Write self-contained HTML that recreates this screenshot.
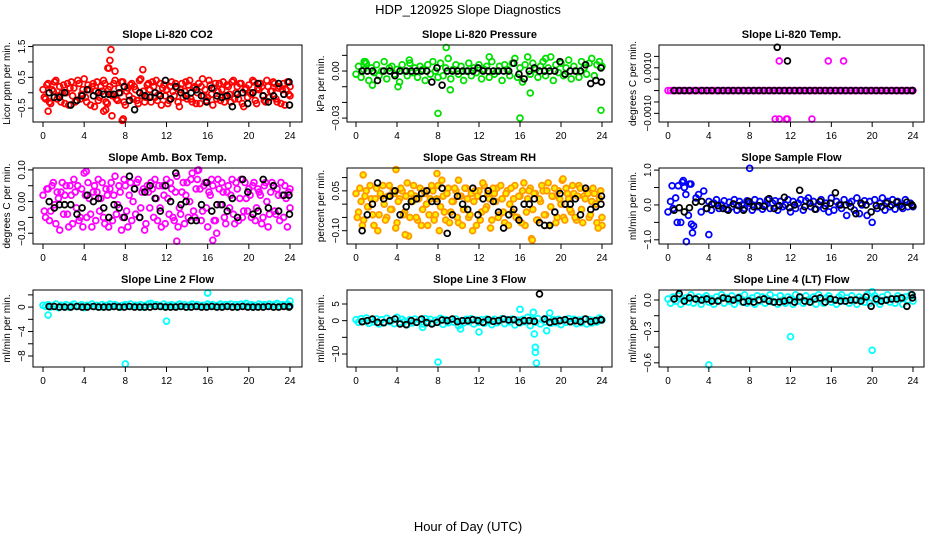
<!DOCTYPE html>
<html><head><meta charset="utf-8">
<style>
html,body{margin:0;padding:0;background:#fff;}
svg{display:block;font-family:"Liberation Sans",sans-serif;}
</style></head>
<body>
<svg id="chart" width="936" height="540" viewBox="0 0 936 540">
<text x="468" y="14" text-anchor="middle" font-size="13">HDP_120925  Slope Diagnostics</text>
<text x="468" y="531" text-anchor="middle" font-size="13">Hour of Day (UTC)</text>
</svg>
<script>
const hours=[0,0.25,0.5,0.75,1,1.25,1.5,1.75,2,2.25,2.5,2.75,3,3.25,3.5,3.75,4,4.25,4.5,4.75,5,5.25,5.5,5.75,6,6.25,6.5,6.75,7,7.25,7.5,7.75,8,8.25,8.5,8.75,9,9.25,9.5,9.75,10,10.25,10.5,10.75,11,11.25,11.5,11.75,12,12.25,12.5,12.75,13,13.25,13.5,13.75,14,14.25,14.5,14.75,15,15.25,15.5,15.75,16,16.25,16.5,16.75,17,17.25,17.5,17.75,18,18.25,18.5,18.75,19,19.25,19.5,19.75,20,20.25,20.5,20.75,21,21.25,21.5,21.75,22,22.25,22.5,22.75,23,23.25,23.5,23.75,24];
const blackHours=[0.6,1.1,1.6,2.1,2.7,3.3,3.8,4.3,4.9,5.4,5.9,6.4,6.9,7.4,7.9,8.4,8.9,9.4,9.9,10.4,10.9,11.4,11.9,12.4,12.9,13.4,13.9,14.4,14.9,15.4,15.9,16.4,16.9,17.4,17.9,18.4,18.9,19.4,19.9,20.4,20.9,21.4,21.9,22.4,22.9,23.4,23.9,23.95];

const co2Vals=[0.1,-0.2,0.3,-0.35,0.05,0.4,-0.1,-0.3,0.25,0.0,-0.4,0.35,0.15,-0.25,0.3,-0.05,0.45,-0.3,0.1,0.2,-0.45,0.35,-0.15,0.05,0.3,-0.35,0.2,-0.1,0.4,-0.25,0.0,0.35,-0.4,0.15,0.25,-0.2,0.1,-0.35,0.45,0.05,-0.15,0.3,-0.3,0.2,0.4,-0.05,-0.4,0.25,0.1,-0.25,0.35,-0.1,0.15,-0.45,0.3,0.05,-0.2,0.4,-0.3,0.2,0.0,-0.35,0.45,0.1,-0.15,0.25,-0.4,0.3,0.05,-0.25,0.35,-0.1,0.2,-0.3,0.4,0.0,-0.2,0.3,-0.45,0.15,0.25,-0.05,0.35,-0.35,0.1,0.2,-0.25,0.4,-0.15,0.05,0.3,-0.3,0.2,0.1,-0.4,0.35,-0.1];
const co2Vals2=[-0.15,0.25,-0.3,0.1,0.35,-0.2,0.2,0.0,-0.35,0.3,0.15,-0.1,-0.3,0.4,-0.2,0.1,-0.15,0.25,-0.4,0.3,0.05,-0.25,0.2,0.4,-0.3,0.1,-0.05,0.3,-0.2,0.15,0.35,-0.3,0.05,-0.1,0.3,0.2,-0.25,0.4,-0.1,-0.3,0.25,0.1,0.35,-0.15,-0.25,0.3,0.15,-0.1,-0.35,0.2,0.05,0.3,-0.3,0.1,-0.15,0.35,0.25,-0.2,0.15,-0.35,0.3,0.2,-0.1,-0.25,0.4,-0.05,0.15,-0.2,0.3,0.1,-0.3,0.25,-0.05,0.35,-0.2,0.2,0.3,-0.35,0.1,-0.15,0.0,0.4,-0.25,0.15,0.3,-0.1,-0.3,0.2,0.05,0.35,-0.2,0.15,-0.35,0.3,0.1,-0.05,0.2];
const co2OutX=[6.6,6.5,6.3,6.4,7.0,9.7,7.7,7.8,6.7,0.5,5.9,6.1];
const co2OutY=[1.4,1.05,0.8,0.8,0.7,0.75,-0.9,-0.85,-0.75,-0.6,-0.6,-0.55];
const co2Black=[0.0,-0.15,-0.15,0.0,-0.4,-0.25,-0.1,0.1,-0.1,0.0,-0.05,-0.05,-0.05,0.0,0.2,-0.25,-0.55,0.0,-0.1,-0.15,0.0,-0.1,0.4,-0.2,0.2,0.0,-0.1,0.0,0.1,-0.1,-0.3,0.15,-0.1,-0.15,-0.1,-0.45,-0.05,0.0,-0.35,0.0,0.3,-0.1,-0.3,-0.1,0.3,-0.05,0.35,-0.4];

const presVals=[-0.002,0.003,-0.004,0.001,0.005,-0.006,0.002,-0.001,0.004,-0.003,0.0,0.006,-0.005,0.002,0.003,-0.002,0.001,-0.007,0.004,0.0,-0.003,0.005,-0.001,0.002,-0.004,0.003,0.001,-0.006,0.004,-0.002,0.006,0.0,-0.004,0.005,-0.003,0.002,0.008,-0.005,0.001,0.004,-0.002,0.003,-0.006,0.0,0.005,-0.003,0.002,-0.001,0.004,-0.005,0.001,0.003,-0.004,0.006,-0.002,0.0,0.003,-0.006,0.004,0.001,-0.003,0.005,0.008,-0.004,0.002,-0.007,0.004,0.009,-0.002,0.005,0.001,-0.004,0.003,0.006,-0.003,0.002,0.009,-0.006,0.004,-0.001,0.005,-0.003,0.002,0.007,-0.005,0.003,0.0,-0.004,0.006,0.002,-0.002,0.005,0.008,-0.003,0.004,0.006,0.003];
const presOutX=[8.0,16.0,23.9,8.8,0.9,9.2,4.1,17.0,1.6,0.8,5.2,13.0,18.5];
const presOutY=[-0.027,-0.030,-0.025,0.015,0.006,-0.012,-0.010,-0.014,-0.009,0.006,0.007,0.009,0.008];
const presBlack=[0.0,0.0,0.0,-0.006,0.0,0.0,-0.003,0.0,0.0,0.0,0.0,0.0,0.0,-0.007,0.002,-0.009,0.0,0.0,0.0,0.0,0.0,0.0,0.002,0.0,0.0,0.0,0.0,0.0,0.0,0.005,-0.002,-0.005,0.0,0.002,0.0,0.0,0.0,0.0,0.006,-0.002,0.0,0.0,0.0,0.004,-0.008,-0.006,0.002,-0.007];

const tempVals=[0,0,0,0,0,0,0,0,0,0,0,0,0,0,0,0,0,0,0,0,0,0,0,0,0,0,0,0,0,0,0,0,0,0,0,0,0,0,0,0,0,0,0,0,0,0,0,0,0,0,0,0,0,0,0,0,0,0,0,0,0,0,0,0,0,0,0,0,0,0,0,0,0,0,0,0,0,0,0,0,0,0,0,0,0,0,0,0,0,0,0,0,0,0,0,0,0];
const tempOutX=[10.9,15.7,17.2,10.5,10.9,11.6,11.7,14.1];
const tempOutY=[0.0013,0.0013,0.0013,-0.00125,-0.00125,-0.00125,-0.00125,-0.00125];
const tempBlackX=[10.7,11.7];
const tempBlackY=[0.0019,0.0013];
const tempBlack=[0,0,0,0,0,0,0,0,0,0,0,0,0,0,0,0,0,0,0,0,0,0,0,0,0,0,0,0,0,0,0,0,0,0,0,0,0,0,0,0,0,0,0,0,0,0,0,0];

const ambVals=[0.02,-0.05,0.04,-0.03,0.06,-0.07,0.01,0.03,-0.04,0.05,-0.08,0.02,0.07,-0.02,-0.06,0.04,0.09,-0.05,0.01,-0.08,0.05,0.03,-0.03,0.06,-0.07,0.02,0.04,-0.06,0.08,-0.01,0.03,-0.05,0.05,-0.08,0.06,0.0,-0.04,0.07,-0.02,0.04,-0.07,0.03,0.06,-0.05,0.01,0.05,-0.08,0.02,0.07,-0.04,0.04,-0.06,0.08,-0.02,0.03,-0.07,0.06,0.0,0.09,-0.05,0.07,0.04,-0.03,0.06,-0.08,0.02,0.05,-0.06,0.07,-0.01,0.03,-0.07,0.05,0.02,-0.04,0.06,-0.06,0.07,-0.03,0.01,0.04,-0.05,0.06,-0.02,0.03,-0.07,0.05,0.0,-0.04,0.06,-0.03,0.04,-0.06,0.02,0.05,-0.08,-0.02];
const ambVals2=[-0.03,0.04,-0.06,0.05,-0.01,0.03,-0.09,0.06,0.02,-0.04,0.05,-0.07,0.03,0.05,-0.05,-0.08,0.02,0.06,-0.04,0.03,-0.06,0.07,0.01,-0.05,0.04,-0.08,0.06,0.02,-0.04,0.05,-0.09,0.07,-0.03,0.02,-0.06,0.04,0.06,-0.05,0.03,-0.09,0.05,-0.02,0.04,0.07,-0.06,-0.02,0.05,-0.07,0.01,0.06,-0.05,0.03,-0.08,-0.04,0.06,0.02,-0.05,0.07,-0.03,0.04,0.1,-0.06,0.05,-0.02,0.03,0.07,-0.06,-0.1,0.04,0.06,-0.05,0.03,-0.02,0.07,-0.07,0.04,0.01,-0.05,0.06,-0.03,0.02,0.05,-0.06,0.04,0.02,-0.05,0.06,-0.08,0.03,0.05,-0.04,0.02,0.06,-0.05,0.01,0.03,0.04];
const ambBlack=[0.0,-0.02,-0.01,-0.01,-0.01,-0.04,-0.02,0.02,0.0,0.01,-0.02,-0.05,-0.01,-0.02,-0.05,0.08,0.04,-0.05,0.03,0.05,0.01,-0.03,0.05,0.0,0.09,-0.01,0.0,-0.06,-0.06,-0.01,0.06,-0.03,-0.01,-0.01,-0.03,0.01,-0.05,0.07,0.03,-0.04,-0.03,0.07,-0.02,0.05,-0.03,0.02,0.02,-0.04];

const rhVals=[0.04,-0.03,0.01,-0.06,0.05,-0.01,0.02,-0.08,0.06,-0.04,0.03,0.0,-0.05,0.07,-0.02,0.04,-0.07,0.02,0.05,-0.03,0.08,-0.05,0.01,0.03,-0.06,0.06,-0.02,0.04,-0.08,0.02,0.05,-0.04,0.07,-0.01,0.03,-0.06,0.06,-0.03,0.01,0.05,-0.07,0.03,-0.02,0.06,-0.05,0.04,0.01,-0.08,0.05,-0.03,0.07,-0.01,0.02,-0.06,0.04,0.06,-0.04,0.02,-0.07,0.05,0.0,-0.03,0.07,-0.05,0.03,0.05,-0.08,0.02,0.06,-0.02,0.04,-0.06,0.01,0.05,-0.04,0.08,-0.01,0.03,-0.07,0.05,0.0,-0.05,0.06,0.02,-0.03,0.04,-0.06,0.07,-0.02,0.03,0.05,-0.05,0.01,0.04,-0.07,0.02,-0.08];
const rhVals2=[-0.05,0.06,-0.08,0.03,-0.01,0.07,-0.04,0.02,-0.1,0.04,0.07,-0.06,0.03,-0.02,0.05,-0.09,0.01,0.06,-0.04,0.03,-0.12,0.04,0.07,-0.05,0.02,-0.08,0.05,0.0,-0.04,0.07,-0.06,0.02,-0.1,0.09,-0.03,0.04,-0.07,0.01,0.06,-0.05,0.03,-0.08,0.06,0.02,-0.04,-0.1,0.05,0.03,-0.06,0.08,-0.02,0.04,-0.09,0.06,0.01,-0.05,0.07,-0.03,0.04,-0.08,0.06,0.02,-0.05,0.03,-0.07,0.08,-0.03,0.05,-0.13,0.04,-0.06,0.02,0.07,-0.04,0.05,-0.08,0.03,0.06,-0.05,0.02,0.09,-0.06,0.04,-0.02,0.07,-0.05,0.03,0.06,-0.07,0.02,0.04,-0.04,0.06,0.0,-0.09,0.05,-0.05];
const rhBlack=[-0.1,-0.04,0.0,0.08,0.02,0.03,0.05,-0.04,-0.01,0.01,0.02,0.04,0.05,0.01,0.01,0.06,-0.11,-0.04,0.03,0.0,-0.02,0.06,-0.04,0.02,0.05,0.01,-0.03,-0.09,-0.04,-0.02,-0.06,0.0,0.0,0.02,-0.07,-0.08,-0.08,-0.03,0.04,0.0,0.0,0.02,-0.04,0.06,-0.02,-0.01,0.0,0.03];

const flowVals=[-0.2,0.1,-0.1,0.2,0.55,-0.5,0.7,0.3,-0.3,0.6,-0.6,0.2,0.3,-0.2,0.4,-0.1,0.1,-0.15,0.05,0.15,-0.1,0.0,0.12,-0.12,0.08,-0.05,0.15,-0.15,0.1,0.0,-0.1,0.12,0.05,-0.15,0.15,-0.05,0.1,-0.12,0.0,0.15,-0.1,0.05,0.12,-0.15,0.1,-0.05,0.0,0.15,-0.2,0.1,-0.1,0.05,0.15,-0.15,0.12,0.2,-0.05,0.1,-0.12,0.0,0.15,-0.1,0.05,-0.2,0.2,-0.15,0.1,0.0,-0.1,0.15,-0.3,0.05,0.1,-0.15,0.2,-0.25,0.0,0.12,-0.3,0.1,-0.5,0.15,-0.1,0.05,0.2,-0.15,0.1,-0.05,0.15,-0.12,0.1,0.0,-0.1,0.15,-0.05,0.05,-0.05];
const flowOutX=[0.4,0.9,1.8,2.3,2.4,4.0,8.0,1.4,1.6,2.1];
const flowOutY=[0.55,-0.5,-1.05,-0.55,-0.8,-0.85,1.05,0.65,0.5,0.6];
const flowBlack=[-0.15,-0.08,-0.2,-0.08,0.08,0.1,-0.1,0.02,-0.02,-0.1,-0.15,0.03,-0.02,-0.15,0.1,-0.05,-0.02,-0.04,0.18,-0.1,-0.02,0.22,-0.08,0.0,0.42,-0.05,0.05,-0.12,0.1,-0.03,0.05,0.35,0.0,0.0,-0.05,-0.25,0.05,0.0,-0.2,-0.02,-0.05,0.05,0.0,0.08,-0.05,0.08,0.0,-0.03];

const l2Vals=[0.3,0.1,0.4,0.0,0.2,0.5,-0.1,0.3,0.2,0.4,0.0,0.3,0.5,0.1,0.2,0.4,-0.1,0.3,0.2,0.5,0.1,0.3,0.0,0.4,0.2,0.3,0.5,0.1,0.4,0.2,0.0,0.3,0.4,0.2,0.5,0.1,0.3,0.2,0.4,0.0,0.3,0.5,0.6,0.2,0.4,0.3,0.1,0.5,0.2,0.3,0.4,0.1,0.3,0.5,0.2,0.4,0.0,0.3,0.5,0.2,0.4,0.1,0.3,0.2,0.5,0.3,0.4,0.1,0.3,0.5,0.2,0.4,0.3,0.5,0.1,0.4,0.2,0.5,0.3,0.6,0.2,0.4,0.3,0.1,0.5,0.3,0.4,0.2,0.5,0.3,0.4,0.6,0.2,0.4,0.3,0.5,0.2];
const l2OutX=[8.0,16.0,12.0,0.5,24.0];
const l2OutY=[-9.3,2.3,-2.3,-1.3,1.0];
const l2Black=[0.1,0.1,0.0,0.0,0.0,0.1,0.0,0.0,0.1,0.0,0.0,0.0,0.1,0.0,0.0,0.1,0.0,0.0,0.0,0.0,0.1,0.1,0.0,0.0,0.0,0.1,0.0,0.0,0.1,0.0,0.0,0.1,0.0,0.0,0.1,0.0,0.0,0.1,0.0,0.0,0.0,0.0,0.1,0.0,0.0,0.1,0.0,0.1];

const l3Vals=[0.3,-0.5,0.6,-0.2,0.8,-0.8,0.2,-0.4,0.5,-1.0,0.3,-0.6,0.7,-0.3,0.1,-0.9,1.0,-0.5,0.4,-0.2,-1.2,0.3,-0.7,0.5,-0.4,0.2,-1.0,0.6,-0.3,0.4,-0.8,0.1,-0.5,0.7,-1.1,0.3,-0.6,0.2,-0.4,0.5,-1.5,0.0,-0.7,0.4,-0.3,0.6,-1.0,0.2,-0.5,0.3,-0.8,0.5,-0.2,-1.2,0.4,-0.6,0.1,0.6,-0.9,0.3,-0.4,0.5,-1.3,0.2,-0.7,0.4,-0.3,1.0,-1.5,0.3,-0.5,0.6,-1.0,0.2,-0.4,0.7,-0.8,0.3,-0.6,0.4,-1.2,0.1,-0.5,0.6,-0.3,0.4,-0.9,0.2,-0.6,0.5,-1.0,0.3,-0.7,0.1,-0.4,0.8,0.2];
const l3OutX=[8.0,12.0,16.0,17.3,17.4,17.5,17.5,17.6,18.6,18.9,6.5,10.2];
const l3OutY=[-12.4,-3.4,3.4,2.5,-4.0,-8.0,-9.5,-12.7,-3.0,2.3,-2.0,-2.5];
const l3Black=[-0.3,0.0,0.5,-0.5,-0.6,0.0,0.5,-1.0,-1.2,0.0,-0.5,0.5,-0.6,-1.0,-0.5,0.2,0.0,0.5,-0.3,0.0,0.0,0.3,0.0,-0.5,0.3,-0.2,0.0,0.5,0.2,0.3,-0.5,0.0,0.0,-0.2,8.0,0.5,-0.5,-0.2,0.0,0.3,-0.3,0.0,-0.3,0.5,-0.3,0.0,0.3,0.2];

const l4Vals=[0.01,-0.03,0.03,-0.01,0.04,-0.04,0.0,0.02,-0.02,0.05,-0.03,0.01,0.03,-0.04,0.02,0.04,-0.02,0.01,-0.04,0.03,0.0,0.05,-0.03,0.02,-0.01,0.04,-0.04,0.01,0.03,-0.02,0.05,-0.03,0.0,0.02,-0.04,0.04,-0.01,0.03,-0.03,0.01,0.05,-0.02,0.02,-0.04,0.04,0.0,-0.03,0.03,0.01,-0.04,0.05,-0.01,0.02,-0.03,0.04,0.0,-0.02,0.03,-0.04,0.05,0.01,-0.03,0.02,0.04,-0.02,0.0,-0.04,0.03,0.05,-0.01,0.02,-0.03,0.04,0.0,-0.04,0.03,0.01,-0.02,0.05,-0.03,0.02,0.04,-0.01,-0.04,0.03,0.0,0.05,-0.02,0.01,-0.03,0.04,0.02,-0.04,0.03,0.0,0.05,-0.01];
const l4OutX=[4.0,12.0,20.0,20.0];
const l4OutY=[-0.62,-0.35,-0.48,0.08];
const l4Black=[0.01,0.06,-0.01,0.02,0.01,0.0,0.01,-0.01,-0.01,0.02,0.01,0.0,0.02,-0.02,-0.01,-0.02,0.0,0.01,-0.01,-0.02,-0.02,-0.01,0.0,-0.02,0.03,-0.01,-0.02,0.01,0.02,-0.02,0.01,0.0,-0.01,-0.01,0.0,0.0,-0.01,0.03,-0.06,0.01,-0.01,0.0,0.01,0.01,0.02,-0.06,0.05,0.02];

const panels=[
 {name:"co2",title:"Slope Li-820 CO2",ylab:"Licor ppm per min.",col:0,row:0,ymin:-0.95,ymax:1.55,ticks:[-0.5,0,0.5,1,1.5],labels:[-0.5,0.5,1.5],lfmt:1,color:"#ff0000",fill:"none",vals:[co2Vals,co2Vals2],hr2:0.125,outX:co2OutX,outY:co2OutY,black:co2Black},
 {name:"pressure",title:"Slope Li-820 Pressure",ylab:"kPa per min.",col:1,row:0,ymin:-0.0325,ymax:0.0166,ticks:[-0.03,-0.02,-0.01,0,0.01],labels:[-0.03,0],lfmt:2,color:"#00e000",fill:"none",vals:[presVals],outX:presOutX,outY:presOutY,black:presBlack},
 {name:"temp",title:"Slope Li-820 Temp.",ylab:"degrees C per min.",col:2,row:0,ymin:-0.00138,ymax:0.002,ticks:[-0.001,-0.0005,0,0.0005,0.001,0.0015],labels:[-0.001,0.001],lfmt:4,color:"#ff00ff",fill:"none",vals:[tempVals],outX:tempOutX,outY:tempOutY,black:tempBlack,bX:tempBlackX,bY:tempBlackY},
 {name:"amb-box-temp",title:"Slope Amb. Box Temp.",ylab:"degrees C per min.",col:0,row:1,ymin:-0.134,ymax:0.106,ticks:[-0.1,-0.05,0,0.05,0.1],labels:[-0.1,0,0.1],lfmt:2,color:"#ff00ff",fill:"none",vals:[ambVals,ambVals2],hr2:0.125,outX:[13.0,16.5,4.2,15.0],outY:[-0.125,-0.122,0.095,0.098],black:ambBlack},
 {name:"gas-stream-rh",title:"Slope Gas Stream RH",ylab:"percent per min.",col:1,row:1,ymin:-0.15,ymax:0.136,ticks:[-0.1,-0.05,0,0.05,0.1],labels:[-0.1,0.05],lfmt:2,color:"#ff9900",fill:"#ffee00",vals:[rhVals,rhVals2],hr2:0.125,outX:[0.7,3.9,7.9,17.2,20.2,4.8,10.0],outY:[0.11,0.13,0.115,-0.135,0.095,-0.115,0.09],black:rhBlack},
 {name:"sample-flow",title:"Slope Sample Flow",ylab:"ml/min per min.",col:2,row:1,ymin:-1.12,ymax:1.06,ticks:[-1,-0.5,0,0.5,1],labels:[-1,0,1],lfmt:1,color:"#0000ff",fill:"none",vals:[flowVals],outX:flowOutX,outY:flowOutY,black:flowBlack},
 {name:"line2-flow",title:"Slope Line 2 Flow",ylab:"ml/min per min.",col:0,row:2,ymin:-9.8,ymax:2.8,ticks:[-8,-6,-4,-2,0,2],labels:[-8,-4,0],lfmt:0,color:"#00ffff",fill:"none",vals:[l2Vals],outX:l2OutX,outY:l2OutY,black:l2Black},
 {name:"line3-flow",title:"Slope Line 3 Flow",ylab:"ml/min per min.",col:1,row:2,ymin:-13.9,ymax:9.2,ticks:[-10,-5,0,5],labels:[-10,0,5],lfmt:0,color:"#00ffff",fill:"none",vals:[l3Vals],outX:l3OutX,outY:l3OutY,black:l3Black},
 {name:"line4-flow",title:"Slope Line 4 (LT) Flow",ylab:"ml/min per min.",col:2,row:2,ymin:-0.64,ymax:0.0957,ticks:[-0.6,-0.45,-0.3,-0.15,0],labels:[-0.6,-0.3,0],lfmt:1,color:"#00ffff",fill:"none",vals:[l4Vals],outX:l4OutX,outY:l4OutY,black:l4Black}
];
const xTicks=[0,4,8,12,16,20,24];

const NS="http://www.w3.org/2000/svg";
const svg=document.getElementById('chart');
const boxL=[33,347,659],boxR=[302,612,924],x0=[43,356,668],x24=[290,602,913];
const boxT=[45,168,290],boxB=[122,244,367];
const R_PT=2.9,SW=1.8;
function mk(tag,attrs,parent){const e=document.createElementNS(NS,tag);for(const k in attrs)e.setAttribute(k,attrs[k]);(parent||svg).appendChild(e);return e;}
function fmt(v,d){let s=v.toFixed(d);if(v<0)s="\u2212"+s.slice(1);return s;}

panels.forEach(p=>{
  const L=boxL[p.col],R=boxR[p.col],T=boxT[p.row],B=boxB[p.row];
  const xs=h=>x0[p.col]+(h/24)*(x24[p.col]-x0[p.col]);
  const ys=v=>B-(v-p.ymin)/(p.ymax-p.ymin)*(B-T);
  const g=mk('g',{});
  
  
  const t=mk('text',{x:(L+R)/2,y:T-7,'text-anchor':'middle','font-size':11,'font-weight':'bold'},g);
  t.textContent=p.title;
  
  
  const yl=mk('text',{x:0,y:0,'text-anchor':'middle','font-size':10,transform:`translate(${L-23},${(T+B)/2}) rotate(-90)`},g);
  yl.textContent=p.ylab;
  
  
  const pts=mk('g',{},g);
  
  
  p.vals.forEach((arr,k)=>{
    const off=k*(p.hr2||0);
    const n=Math.min(arr.length,hours.length);
    for(let i=0;i<n;i++){
      const c=mk('circle',{cx:xs(Math.min(24,hours[i]+off)),cy:ys(arr[i]),r:R_PT,fill:p.fill,stroke:p.color,'stroke-width':SW},pts);
      
      
    }
  });
  for(let i=0;i<Math.min(p.outX.length,p.outY.length);i++){
    const c=mk('circle',{cx:xs(p.outX[i]),cy:ys(p.outY[i]),r:R_PT,fill:p.fill,stroke:p.color,'stroke-width':SW},pts);
    
    
  }
  const n=Math.min(p.black.length,blackHours.length);
  for(let i=0;i<n;i++){
    const c=mk('circle',{cx:xs(blackHours[i]),cy:ys(p.black[i]),r:R_PT,fill:'none',stroke:'#000','stroke-width':SW},pts);
    
    
  }
  if(p.bX){for(let i=0;i<p.bX.length;i++){
    const c=mk('circle',{cx:xs(p.bX[i]),cy:ys(p.bY[i]),r:R_PT,fill:'none',stroke:'#000','stroke-width':SW},pts);
    
    
  }}
  const box=mk('rect',{x:L,y:T,width:R-L,height:B-T,fill:'none',stroke:'#000','stroke-width':1},g);
  
  
  const xa=mk('g',{},g);
  
  
  xTicks.forEach(h=>{
    mk('line',{x1:xs(h),x2:xs(h),y1:B,y2:B+5,stroke:'#000'},xa);
    const tl=mk('text',{x:xs(h),y:B+17,'text-anchor':'middle','font-size':10},xa);
    tl.textContent=h;
  });
  const ya=mk('g',{},g);
  
  
  p.ticks.forEach(v=>{mk('line',{x1:L-5,x2:L,y1:ys(v),y2:ys(v),stroke:'#000'},ya);});
  p.labels.forEach(v=>{
    const tl=mk('text',{x:0,y:0,'text-anchor':'middle','font-size':10,transform:`translate(${L-8},${ys(v)}) rotate(-90)`},ya);
    tl.textContent=fmt(v,p.lfmt);
  });
});
</script>
</body></html>
